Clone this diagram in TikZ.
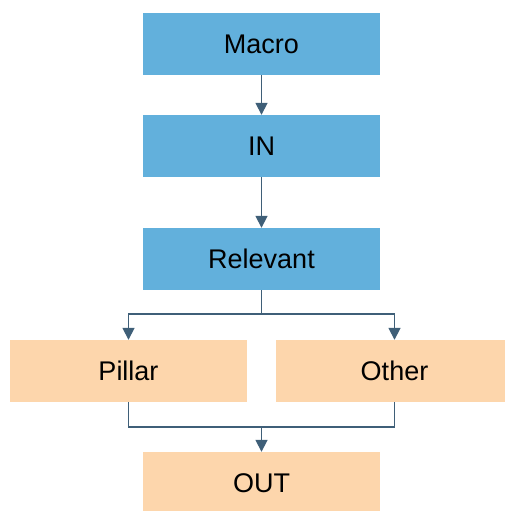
\documentclass[tikz,border=0pt]{standalone}
\usepackage{fontspec}
\setmainfont{Liberation Sans}
\usetikzlibrary{arrows.meta}
\definecolor{bluebox}{HTML}{62B0DC}
\definecolor{orangebox}{HTML}{FDD6AC}
\definecolor{linec}{HTML}{3F5F78}
\begin{document}
\begin{tikzpicture}[x=1pt,y=-1pt,
  bbox/.style={fill=bluebox,draw=none,minimum width=237pt,minimum height=62pt,inner sep=0pt,font=\fontsize{27}{31}\selectfont},
  obox/.style={fill=orangebox,draw=none,minimum width=237pt,minimum height=62pt,inner sep=0pt,font=\fontsize{27}{31}\selectfont},
  conn/.style={draw=linec,line width=1.7pt},
  arr/.style={conn,-{Triangle[width=12pt,length=12pt]}}]
\useasboundingbox (0,0) rectangle (505,511);
\node[bbox] (macro) at (261.5,44) {Macro};
\node[bbox] (in) at (261.5,146) {IN};
\node[bbox] (rel) at (261.5,259) {Relevant};
\node[obox] (pillar) at (128.5,371) {Pillar};
\node[obox] (other) at (394.5,371) {Other};
\node[obox] (out) at (261.5,483) {OUT};
\draw[arr] (macro) -- (in);
\draw[arr] (in) -- (rel);
\draw[arr] (rel.south) |- (128.5,314) -- (pillar.north);
\draw[arr] (rel.south) |- (394.5,314) -- (other.north);
\draw[conn] (pillar.south) |- (261.5,427);
\draw[conn] (other.south) |- (261.5,427);
\draw[arr] (261.5,427) -- (out.north);
\end{tikzpicture}
\end{document}
